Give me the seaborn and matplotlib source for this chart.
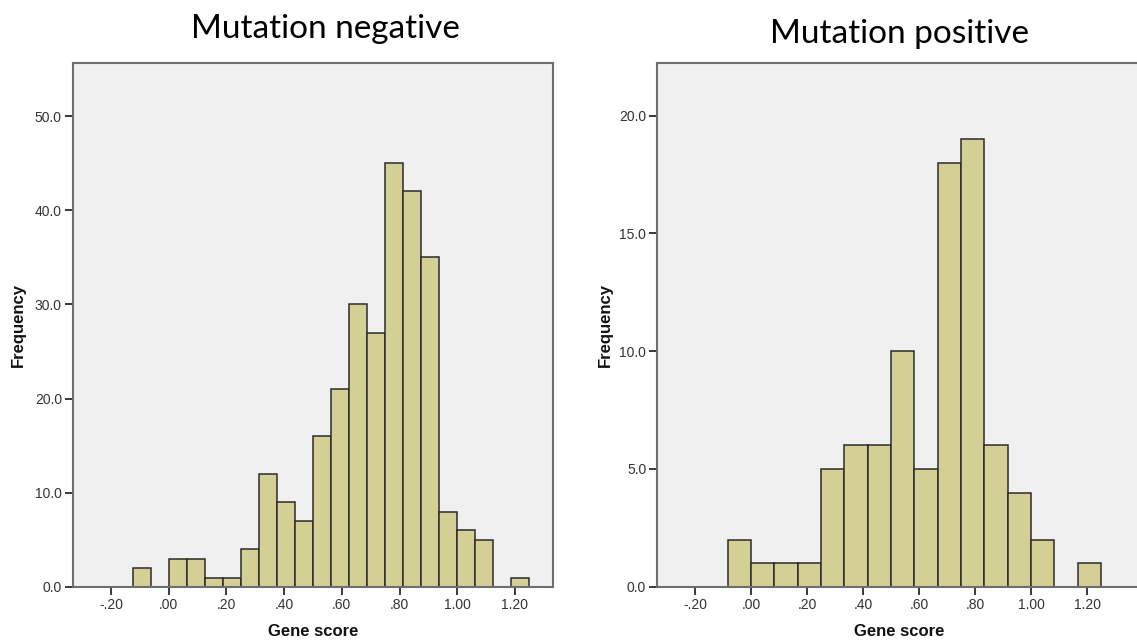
import numpy as np
import pandas as pd
import matplotlib
matplotlib.use("Agg")
import matplotlib.pyplot as plt
import seaborn as sns

# Gene score histogram counts per bin
neg_start, neg_width = -0.125, 0.0625
neg_counts = [2, 0, 3, 3, 1, 1, 4, 12, 9, 7, 16, 21, 30, 27, 45, 42, 35, 8, 6, 5, 0, 1]

pos_start, pos_width = -1 / 12, 1 / 12
pos_counts = [2, 1, 1, 1, 5, 6, 6, 10, 5, 18, 19, 6, 4, 2, 0, 1]

x_ticks = [-0.2, 0.0, 0.2, 0.4, 0.6, 0.8, 1.0, 1.2]
x_tick_labels = ["-.20", ".00", ".20", ".40", ".60", ".80", "1.00", "1.20"]
neg_y_ticks = [0, 10, 20, 30, 40, 50]
pos_y_ticks = [0, 5, 10, 15, 20]

titles = ["Mutation negative", "Mutation positive"]

sns.set_style("white")
plt.rcParams["font.family"] = ["Liberation Sans", "DejaVu Sans"]

BAR = "#d3cf95"
EDGE = "#2b2b2b"
PANEL = "#f0f0f0"
SPINE = "#6e6e6e"


def make_frame(start, width, counts):
    edges = start + width * np.arange(len(counts) + 1)
    centers = (edges[:-1] + edges[1:]) / 2
    return pd.DataFrame({"score": centers, "count": counts}), edges


fig = plt.figure(figsize=(11.37, 6.41), dpi=100)
ax_neg = fig.add_axes([73 / 1137, 54 / 641, 480 / 1137, 524 / 641])
ax_pos = fig.add_axes([657.3 / 1137, 54.3 / 641, 483 / 1137, 523.7 / 641])

panels = [
    (ax_neg, neg_start, neg_width, neg_counts, neg_y_ticks, (-0.332, 1.332), 55.63),
    (ax_pos, pos_start, pos_width, pos_counts, pos_y_ticks, (-0.335, 1.39), 22.24),
]

for ax, start, width, counts, yt, xl, ytop in panels:
    df, edges = make_frame(start, width, counts)
    sns.histplot(data=df, x="score", weights="count", bins=list(edges), ax=ax,
                 color=BAR, alpha=1.0, edgecolor=EDGE, linewidth=1.1)
    ax.set_facecolor(PANEL)
    ax.set_xlim(*xl)
    ax.set_ylim(0, ytop)
    ax.set_xticks(x_ticks)
    ax.set_xticklabels(x_tick_labels)
    ax.set_yticks(yt)
    ax.set_yticklabels([f"{v:.1f}" for v in yt])
    ax.tick_params(axis="both", direction="out", length=6, width=1.4,
                   color="#3a3a3a", labelsize=10, labelcolor="#333333", pad=2,
                   left=True, bottom=True)
    for s in ax.spines.values():
        s.set_color(SPINE)
        s.set_linewidth(1.5)
    ax.set_xlabel("Gene score", fontsize=12, fontweight="bold", color="#111111")
    ax.set_ylabel("Frequency", fontsize=12, fontweight="bold", color="#111111")

# axis-label placement (top of the x label, centre of the y label)
ax_neg.xaxis.set_label_coords(0.5, -37 / 524)
ax_pos.xaxis.set_label_coords(0.5, -37 / 523.7)
ax_neg.yaxis.set_label_coords(-0.098, 0.5)
ax_pos.yaxis.set_label_coords(-0.091, 0.5)

fig.text(325 / 1137, 1 - 29 / 641, titles[0], fontsize=24, family="Lato",
         ha="center", va="center", color="#000000")
fig.text(899 / 1137, 1 - 34 / 641, titles[1], fontsize=24, family="Lato",
         ha="center", va="center", color="#000000")

fig.savefig("out.png", dpi=100, facecolor="white")
